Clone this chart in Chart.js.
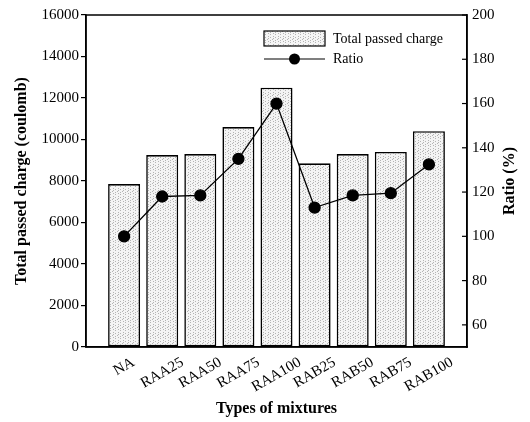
<!DOCTYPE html>
<html>
<head>
<meta charset="utf-8">
<script src="https://cdn.jsdelivr.net/npm/chart.js@4.4.1/dist/chart.umd.min.js"></script>
<style>
html, body { margin: 0; padding: 0; background: #fff; }
#wrap { width: 530px; height: 422px; }
</style>
</head>
<body>
<div id="wrap"><canvas id="myChart"></canvas></div>
<script>
// data
var categories = ['NA', 'RAA25', 'RAA50', 'RAA75', 'RAA100', 'RAB25', 'RAB50', 'RAB75', 'RAB100'];
var chargeValues = [7850, 9250, 9300, 10600, 12500, 8850, 9300, 9400, 10400];
var ratioValues = [100, 118, 118.5, 135, 160, 113, 118.5, 119.5, 132.5];
var chargeTicks = [0, 2000, 4000, 6000, 8000, 10000, 12000, 14000, 16000];
var ratioTicks = [60, 80, 100, 120, 140, 160, 180, 200];

var serif = "'Liberation Serif', 'Times New Roman', serif";

// empty slot at each end so the bars sit one step in from the frame
var labels = [''].concat(categories, ['']);
var chargeData = [null].concat(chargeValues, [null]);
var ratioData = [null].concat(ratioValues, [null]);

var ctx = document.getElementById('myChart').getContext('2d');

// light grey stipple fill for the bars (sparse vertical dot streaks)
function makePattern() {
    var c = document.createElement('canvas');
    c.width = 5; c.height = 8;
    var p = c.getContext('2d');
    p.fillStyle = '#f4f4f4';
    p.fillRect(0, 0, 5, 8);
    p.fillStyle = '#b4b4b4';
    [[0, 0], [0, 2], [0, 5], [3, 1], [3, 4], [3, 6], [2, 7]].forEach(function (d) {
        p.fillRect(d[0], d[1], 1, 1);
    });
    return ctx.createPattern(c, 'repeat');
}
var stipple = makePattern();

var extras = {
    id: 'extras',
    afterDatasetsDraw: function (chart) {
        var c = chart.ctx;
        var a = chart.chartArea;
        c.save();
        // frame
        c.strokeStyle = '#000';
        c.lineWidth = 1.5;
        c.strokeRect(a.left, a.top, a.right - a.left, a.bottom - a.top);

        // inward ticks on the right axis
        var y1 = chart.scales.y1;
        c.lineWidth = 1.2;
        ratioTicks.forEach(function (v) {
            var y = y1.getPixelForValue(v);
            c.beginPath();
            c.moveTo(a.right - 5, y);
            c.lineTo(a.right, y);
            c.stroke();
        });
        c.restore();

        // right axis title, reading bottom to top
        c.save();
        c.fillStyle = '#000';
        c.font = 'bold 16px ' + serif;
        c.textAlign = 'center';
        c.textBaseline = 'middle';
        c.translate(510, (a.top + a.bottom) / 2);
        c.rotate(-Math.PI / 2);
        c.fillText('Ratio (%)', 0, 0);
        c.restore();

        // category labels: rotated 30 deg, centred under each bar, tops aligned
        var xs = chart.scales.x;
        var ang = 30 * Math.PI / 180;
        c.save();
        c.fillStyle = '#000';
        c.font = '15px ' + serif;
        c.textAlign = 'center';
        c.textBaseline = 'middle';
        categories.forEach(function (lab, i) {
            var x = xs.getPixelForValue(i + 1);
            var w = c.measureText(lab).width;
            var ext = w * Math.sin(ang) + 10 * Math.cos(ang);
            c.save();
            c.translate(x, 357 + ext / 2);
            c.rotate(-ang);
            c.fillText(lab, 0, 0);
            c.restore();
        });
        c.restore();

        // legend inside the plot, top right
        c.save();
        var lx = 264, lw = 61;
        c.fillStyle = stipple;
        c.fillRect(lx, 31, lw, 15);
        c.strokeStyle = '#000';
        c.lineWidth = 1.2;
        c.strokeRect(lx, 31, lw, 15);
        c.beginPath();
        c.moveTo(lx, 59);
        c.lineTo(lx + lw, 59);
        c.stroke();
        c.fillStyle = '#000';
        c.beginPath();
        c.arc(lx + lw / 2, 59, 5.5, 0, Math.PI * 2);
        c.fill();
        c.font = '14px ' + serif;
        c.textAlign = 'left';
        c.textBaseline = 'middle';
        c.fillText('Total passed charge', 333, 39);
        c.fillText('Ratio', 333, 59);
        c.restore();
    }
};

var chart = new Chart(ctx, {
    type: 'bar',
    data: {
        labels: labels,
        datasets: [{
            type: 'line',
            label: 'Ratio',
            data: ratioData,
            yAxisID: 'y1',
            borderColor: '#000',
            borderWidth: 1.3,
            backgroundColor: '#000',
            pointRadius: 5.5,
            pointHoverRadius: 5.5,
            pointBackgroundColor: '#000',
            fill: false,
            tension: 0,
            order: 0
        }, {
            type: 'bar',
            label: 'Total passed charge',
            data: chargeData,
            yAxisID: 'y',
            backgroundColor: stipple,
            borderColor: '#000',
            borderWidth: 1.6,
            borderSkipped: false,
            barPercentage: 0.84,
            categoryPercentage: 1,
            order: 1
        }]
    },
    options: {
        responsive: true,
        maintainAspectRatio: false,
        animation: false,
        layout: { padding: { left: 12, top: 15, right: 0, bottom: 0 } },
        plugins: {
            legend: { display: false },
            tooltip: { enabled: false }
        },
        scales: {
            x: {
                offset: false,
                grid: { display: false },
                border: { display: true, color: '#000', width: 1.5 },
                // labels are drawn by the plugin so they can be centred
                ticks: { display: false, autoSkip: false },
                title: {
                    display: true,
                    text: 'Types of mixtures',
                    color: '#000',
                    font: { family: serif, size: 16, weight: 'bold' },
                    padding: { top: 0, bottom: 4 }
                },
                afterFit: function (s) { s.height = 75; }
            },
            y: {
                position: 'left',
                min: 0,
                max: 16000,
                grid: { drawOnChartArea: false, tickLength: 5, color: '#000', lineWidth: 1.2 },
                border: { display: true, color: '#000', width: 1.5 },
                ticks: {
                    color: '#000',
                    font: { family: serif, size: 15 },
                    padding: 2,
                    callback: function (v) { return String(v); }
                },
                afterBuildTicks: function (s) {
                    s.ticks = chargeTicks.map(function (v) { return { value: v }; });
                },
                title: {
                    display: true,
                    text: 'Total passed charge (coulomb)',
                    color: '#000',
                    font: { family: serif, size: 16, weight: 'bold' },
                    padding: { top: 0, bottom: 4 }
                },
                afterFit: function (s) { s.width = 74; }
            },
            y1: {
                position: 'right',
                min: 50,
                max: 200,
                grid: { display: false, drawTicks: false, tickLength: 0 },
                border: { display: true, color: '#000', width: 1.5 },
                ticks: {
                    color: '#000',
                    font: { family: serif, size: 15 },
                    padding: 5,
                    callback: function (v) { return String(v); }
                },
                afterBuildTicks: function (s) {
                    s.ticks = ratioTicks.map(function (v) { return { value: v }; });
                },
                afterFit: function (s) { s.width = 63; }
            }
        }
    },
    plugins: [extras]
});
</script>
</body>
</html>
